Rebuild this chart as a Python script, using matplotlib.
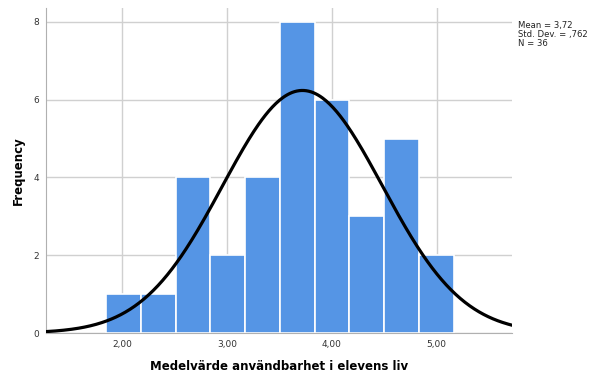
import matplotlib
matplotlib.use("Agg")
import matplotlib.pyplot as plt
import numpy as np

# histogram
bin_start = 1.85
bin_width = 0.331
counts = [1, 1, 4, 2, 4, 8, 6, 3, 5, 2]
mean, sd, n = 3.72, 0.762, 36

xticks = [2, 3, 4, 5]
xticklabels = ["2,00", "3,00", "4,00", "5,00"]
yticks = [0, 2, 4, 6, 8]

plt.rcParams['font.family'] = ['DejaVu Sans']

fig = plt.figure(figsize=(5.91, 3.73), dpi=100)
ax = fig.add_axes([0.0778, 0.1072, 0.788, 0.8714])

edges = bin_start + bin_width * np.arange(len(counts) + 1)
ax.bar(edges[:-1], counts, width=bin_width, align='edge',
       color='#5595E5', edgecolor='white', linewidth=1.2, zorder=2)

# normal curve from the stated mean / sd
xs = np.linspace(1.276, 5.714, 400)
ys = n * bin_width / (sd * np.sqrt(2 * np.pi)) * np.exp(-0.5 * ((xs - mean) / sd) ** 2)
ax.plot(xs, ys, color='black', lw=2.3, zorder=3)

ax.set_xlim(1.276, 5.714)
ax.set_ylim(0, 8.36)
ax.set_xticks(xticks)
ax.set_xticklabels(xticklabels)
ax.set_yticks(yticks)
ax.tick_params(length=0, labelsize=6.5, colors='#333333', pad=5)
ax.grid(True, color='#d0d0d0', lw=1, zorder=0)
ax.set_axisbelow(True)
for s in ['top', 'right']:
    ax.spines[s].set_visible(False)
for s in ['left', 'bottom']:
    ax.spines[s].set_color('#b0b0b0')

ax.set_xlabel('Medelvärde användbarhet i elevens liv', fontsize=8.5,
              fontweight='bold', labelpad=8)
ax.set_ylabel('Frequency', fontsize=8.5, fontweight='bold', labelpad=6)

fig.text(0.876, 0.945, 'Mean = 3,72\nStd. Dev. = ,762\nN = 36',
         fontsize=6.1, va='top', ha='left', linespacing=1.0, color='#222222')

fig.savefig('out.png', dpi=100)
